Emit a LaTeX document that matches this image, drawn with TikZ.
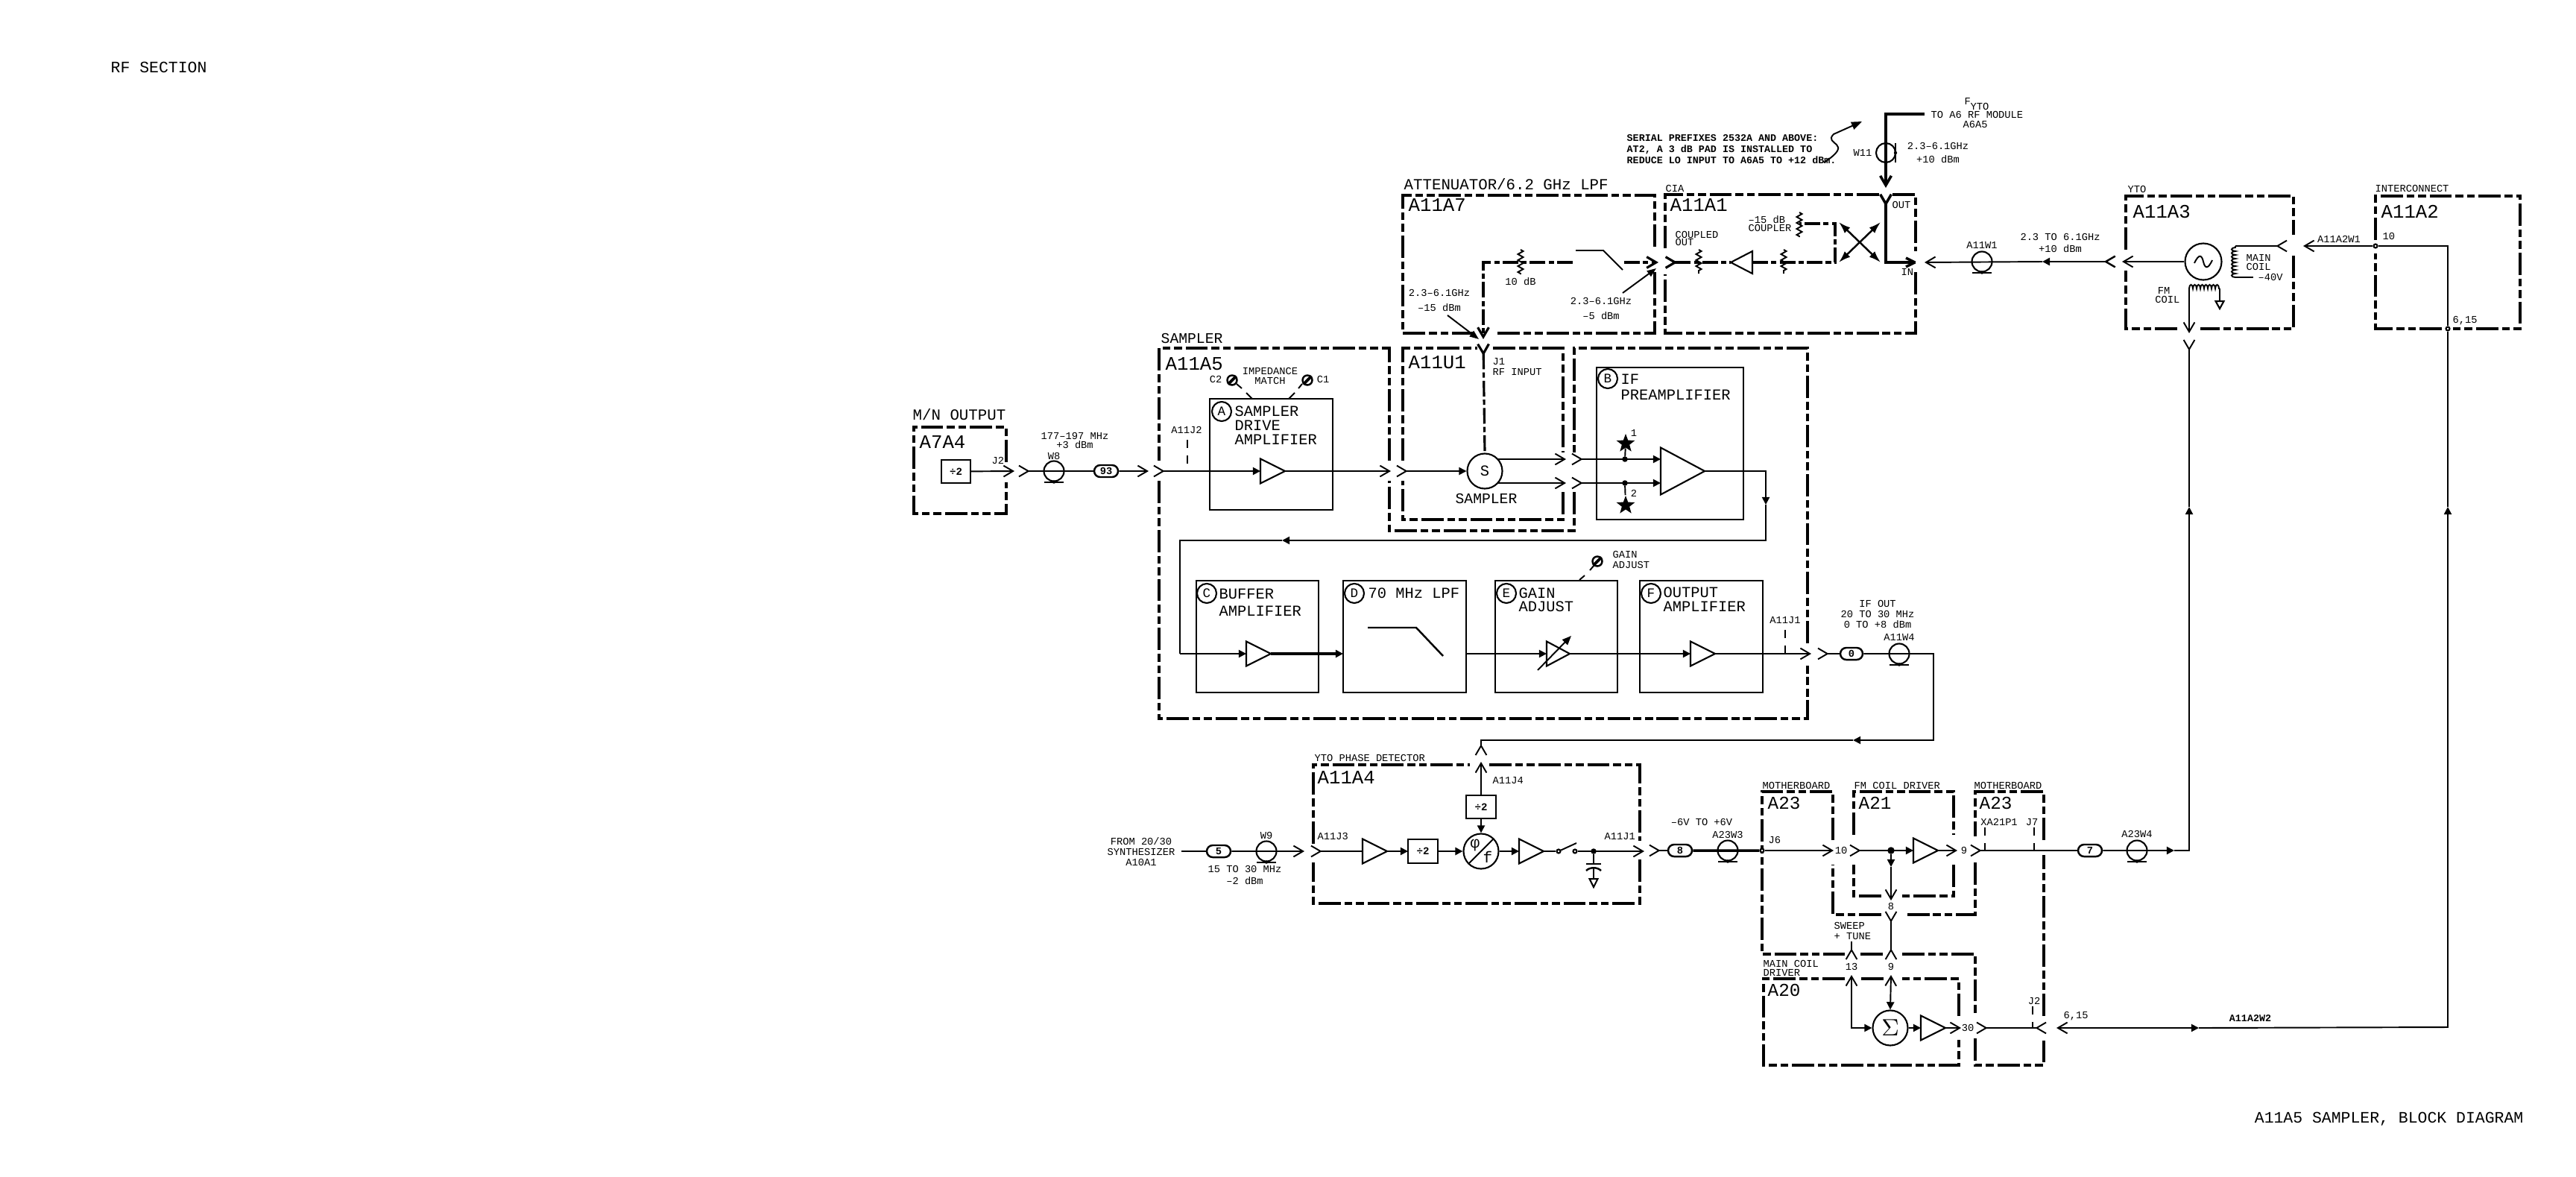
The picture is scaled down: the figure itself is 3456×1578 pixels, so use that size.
\documentclass[tikz,border=0pt]{standalone}
\usepackage{fontspec}
\setmainfont{Liberation Mono}
\usetikzlibrary{arrows.meta,shapes.geometric,shapes.misc,decorations.pathmorphing}

\tikzset{
    plug/.tip={Straight Barb[length=3.6pt,width=4.2pt]},
    wedge/.tip={Triangle[length=2.9pt,width=2.9pt]},
    wire/.style={line width=.55pt},
    heavywire/.style={line width=1pt},
    rfwire/.style={line width=.9pt,dash pattern=on 6pt off 1.2pt on 2pt off 1.2pt},
    modline/.style={line width=1pt,dash pattern=on 8.5pt off 1.4pt on 3pt off 1.4pt on 3pt off 1.4pt},
    blockbox/.style={draw,line width=.7pt,inner sep=0pt,outer sep=0pt},
    ampl/.style={draw,line width=.6pt,isosceles triangle,isosceles triangle stretches,
        minimum height=.33cm,minimum width=.33cm,inner sep=0pt,outer sep=0pt,anchor=lower side},
    lettermark/.style={draw,circle,line width=.6pt,minimum size=.26cm,inner sep=0pt,
        font=\fontsize{5}{5}\selectfont},
    pad/.style={draw,rounded rectangle,line width=.7pt,minimum width=.32cm,minimum height=.16cm,
        inner sep=0pt,font=\fontsize{3.9}{4}\bfseries\selectfont},
    coaxring/.style={draw,circle,line width=.6pt,minimum size=.27cm,inner sep=0pt},
    junct/.style={draw,fill,circle,minimum size=.06cm,inner sep=0pt},
    openjunct/.style={draw,fill=white,circle,line width=.6pt,minimum size=.05cm,inner sep=0pt},
    blackstar/.style={star,star points=5,star point ratio=2.4,fill,minimum size=.26cm,inner sep=0pt},
    coilwire/.style={wire,decorate,decoration={bumps,segment length=.1cm,amplitude=.05cm}},
    zigres/.style={wire,decorate,decoration={zigzag,segment length=.08cm,amplitude=.035cm}},
    txtbig/.style={inner sep=0pt,font=\fontsize{7.3}{8}\selectfont},
    txtmid/.style={inner sep=0pt,align=left,font=\fontsize{5.8}{5.6}\selectfont},
    txtsm/.style={inner sep=0pt,align=center,font=\fontsize{3.9}{4.2}\selectfont},
    txtbf/.style={inner sep=0pt,align=center,font=\fontsize{3.8}{4.2}\bfseries\selectfont},
}

\newcommand{\coaxat}[3]{
    \node[coaxring] (#1) at (#2,#3) {};
    \draw[wire] ([xshift=-.13cm]#1.south) -- ([xshift=.13cm]#1.south);
    \fill (#1.south) circle (2.2);
}
\newcommand{\screwat}[3]{
    \node[draw,circle,line width=.7pt,minimum size=.13cm,inner sep=0pt] (#1) at (#2,#3) {};
    \draw[line width=1.1pt] (#1.south west) -- (#1.north east);
}

\begin{document}
\begin{tikzpicture}[x=0.01cm,y=-0.01cm]
    \useasboundingbox (0,0) rectangle (3456,1578);

    % titles
    \node[inner sep=0pt,anchor=west,font=\fontsize{6.1}{7}\selectfont] (lblSection) at (148,90) {RF SECTION};
    \node[inner sep=0pt,anchor=east,font=\fontsize{6.1}{7}\selectfont] (lblTitle) at (3386,1501) {A11A5 SAMPLER, BLOCK DIAGRAM};

    % module outlines
    \draw[modline] (1350,620) -- (1350,573) -- (1226,573) -- (1226,689) -- (1350,689) -- (1350,647);
    \draw[modline] (1555,645) -- (1555,964) -- (2425,964) -- (2425,893);
    \draw[modline] (2425,863) -- (2425,467) -- (2112,467) -- (2112,607);
    \draw[modline] (2112,660) -- (2112,712) -- (1864,712) -- (1864,645);
    \draw[modline] (1864,618) -- (1864,467) -- (1555,467) -- (1555,618);
    \draw[modline] (1882,618) -- (1882,467) -- (1982,467);
    \draw[modline] (2003,467) -- (2097,467) -- (2097,607);
    \draw[modline] (2097,660) -- (2097,697) -- (1882,697) -- (1882,645);
    \draw[modline] (1978,447) -- (1882,447) -- (1882,262) -- (2220,262) -- (2220,333);
    \draw[modline] (2220,365) -- (2220,447) -- (2006,447);
    \draw[modline] (2234,333) -- (2234,261) -- (2523,261);
    \draw[modline] (2539,261) -- (2570,261) -- (2570,337);
    \draw[modline] (2570,365) -- (2570,447) -- (2234,447) -- (2234,368);
    \draw[modline] (2852,335) -- (2852,263) -- (3077,263) -- (3077,315);
    \draw[modline] (3077,343) -- (3077,441) -- (2952,441);
    \draw[modline] (2921,441) -- (2852,441) -- (2852,363);
    \draw[modline] (3187,322) -- (3187,263) -- (3381,263) -- (3381,441) -- (3291,441);
    \draw[modline] (3276,441) -- (3187,441) -- (3187,340);
    \draw[modline] (1762,1132) -- (1762,1026) -- (1972,1026);
    \draw[modline] (1998,1026) -- (2200,1026) -- (2200,1128);
    \draw[modline] (2200,1153) -- (2200,1212) -- (1762,1212) -- (1762,1157);
    \draw[modline] (2459,1127) -- (2459,1062) -- (2364,1062) -- (2364,1280) -- (2475,1280);
    \draw[modline] (2496,1280) -- (2527,1280);
    \draw[modline] (2552,1280) -- (2650,1280) -- (2650,1363);
    \draw[modline] (2650,1393) -- (2650,1429) -- (2742,1429) -- (2742,1393);
    \draw[modline] (2742,1363) -- (2742,1147);
    \draw[modline] (2742,1127) -- (2742,1062) -- (2650,1062) -- (2650,1122);
    \draw[modline] (2650,1157) -- (2650,1227) -- (2555,1227);
    \draw[modline] (2524,1227) -- (2459,1227) -- (2459,1160);
    \draw[modline] (2487,1120) -- (2487,1062) -- (2621,1062) -- (2621,1120);
    \draw[modline] (2621,1160) -- (2621,1202) -- (2552,1202);
    \draw[modline] (2524,1202) -- (2487,1202) -- (2487,1160);
    \draw[modline] (2475,1313) -- (2366,1313) -- (2366,1429) -- (2628,1429) -- (2628,1393);
    \draw[modline] (2628,1363) -- (2628,1313) -- (2552,1313);
    \draw[modline] (2527,1313) -- (2496,1313);

    % module names
    \node[txtmid,anchor=west,font=\fontsize{5.9}{6}\selectfont] (lblMN) at (1224,556) {M/N OUTPUT};
    \node[txtbig,anchor=west] (lblAsevenA) at (1233,593) {A7A4};
    \node[txtmid,anchor=west,font=\fontsize{5.6}{6}\selectfont] (lblSamplerTop) at (1557,454) {SAMPLER};
    \node[txtbig,anchor=west] (lblAfive) at (1563,488) {A11A5};
    \node[txtbig,anchor=west] (lblUone) at (1889,486) {A11U1};
    \node[txtmid,anchor=west,font=\fontsize{5.9}{6}\selectfont] (lblAtten) at (1883,247) {ATTENUATOR/6.2 GHz LPF};
    \node[txtbig,anchor=west] (lblAseven) at (1889,275) {A11A7};
    \node[txtsm,anchor=west] (lblCIA) at (2234,253) {CIA};
    \node[txtbig,anchor=west] (lblAone) at (2240,275) {A11A1};
    \node[txtsm,anchor=west] (lblYTO) at (2854,254) {YTO};
    \node[txtbig,anchor=west] (lblAthree) at (2861,284) {A11A3};
    \node[txtsm,anchor=west] (lblInter) at (3186,253) {INTERCONNECT};
    \node[txtbig,anchor=west] (lblAtwo) at (3194,284) {A11A2};
    \node[txtsm,anchor=west] (lblPhase) at (1763,1017) {YTO PHASE DETECTOR};
    \node[txtbig,anchor=west] (lblAfour) at (1767,1043) {A11A4};
    \node[txtsm,anchor=west] (lblMboardL) at (2364,1054) {MOTHERBOARD};
    \node[txtsm,anchor=west] (lblFMdrv) at (2487,1054) {FM COIL DRIVER};
    \node[txtsm,anchor=west] (lblMboardR) at (2648,1054) {MOTHERBOARD};
    \node[txtbig,anchor=west,font=\fontsize{6.9}{7}\selectfont] (lblAtwentythreeL) at (2371,1077) {A23};
    \node[txtbig,anchor=west,font=\fontsize{6.9}{7}\selectfont] (lblAtwentyone) at (2493,1077) {A21};
    \node[txtbig,anchor=west,font=\fontsize{6.9}{7}\selectfont] (lblAtwentythreeR) at (2655,1077) {A23};
    \node[txtsm,anchor=west,align=left] (lblMainDrv) at (2365,1299) {MAIN COIL\\[-.6pt]DRIVER};
    \node[txtbig,anchor=west,font=\fontsize{6.9}{7}\selectfont] (lblAtwenty) at (2371,1328) {A20};

    % note and w11
    \node[txtbf,anchor=west,align=left] (lblSerial) at (2182,200) {SERIAL PREFIXES 2532A AND ABOVE:\\AT2, A 3 dB PAD IS INSTALLED TO\\REDUCE LO INPUT TO A6A5 TO +12 dBm.};
    \coordinate (noteA) at (2447,218);
    \coordinate (noteB) at (2498,163);
    \draw[wire,-{Triangle[length=4pt,width=3pt]}] (noteA) .. controls (2490,190) and (2445,195) .. (2460,180) -- (noteB);
    \coordinate (fytoEnd) at (2582,153);
    \coordinate (fytoCorner) at (2530,153);
    \coordinate (fytoTip) at (2530,252);
    \draw[heavywire,-{plug}] (fytoEnd) -- (fytoCorner) -- (fytoTip);
    \node[draw,circle,line width=.6pt,minimum size=.26cm,inner sep=0pt] (wEleven) at (2530,205) {};
    \draw[wire] (2543,192) -- (2543,218);
    \fill (2543,205) circle (2.2);
    \node[txtsm,anchor=east] (lblWeleven) at (2512,205) {W11};
    \node[txtsm] (lblFreqTop) at (2600,205) {2.3–6.1GHz\\[1pt]+10 dBm};
    \node[txtsm,anchor=west] (lblF) at (2635,136) {F};
    \node[txtsm,anchor=west] (lblFsub) at (2643,143) {YTO};
    \node[txtsm,anchor=west] (lblToAsix) at (2590,154) {TO A6 RF MODULE};
    \node[txtsm,anchor=west] (lblAsixAfive) at (2633,167) {A6A5};

    % a11a1 coupler
    \coordinate (cplTop) at (2530,259);
    \coordinate (cplCorner) at (2530,352);
    \coordinate (cplIn) at (2570,352);
    \coordinate (cplFeed) at (2582,352);
    \draw[heavywire,{plug[reversed]}-] (cplTop) -- (cplCorner) -- (cplIn);
    \draw[heavywire] (2569,352) -- (2557,346) (2569,352) -- (2557,358);
    \node[txtsm,anchor=west] (lblOut) at (2538,275) {OUT};
    \node[txtsm,anchor=west] (lblIn) at (2550,365) {IN};
    \coordinate (xNW) at (2467,298);
    \coordinate (xNE) at (2523,298);
    \coordinate (xSW) at (2467,352);
    \coordinate (xSE) at (2523,352);
    \draw[wire,line width=.7pt,{Latex[length=4.5pt,width=3pt]}-{Latex[length=4.5pt,width=3pt]}] (xNW) -- (xSE);
    \draw[wire,line width=.7pt,{Latex[length=4.5pt,width=3pt]}-{Latex[length=4.5pt,width=3pt]}] (xSW) -- (xNE);
    \node[ampl,shape border rotate=180,minimum height=.29cm,minimum width=.3cm] (ampCpl) at (2351,352) {};
    \coordinate (cplJoin) at (2462,352);
    \coordinate (cplUp) at (2462,300);
    \coordinate (cplRes) at (2414,300);
    \draw[rfwire] (ampCpl.lower side) -- (cplJoin) -- (cplUp) -- (cplRes);
    \draw[zigres] (2414,285) -- (2414,318);
    \draw[zigres] (2393,335) -- (2393,367);
    \draw[zigres] (2279,335) -- (2279,367);
    \coordinate (coupOut) at (2233,352);
    \draw[rfwire,{plug[reversed]}-] (coupOut) -- (ampCpl.apex);
    \node[txtsm,anchor=east,align=left] (lblCoupler) at (2404,300) {–15 dB\\[-1.2pt]COUPLER};
    \node[txtsm,anchor=west,align=left] (lblCoupled) at (2247,320) {COUPLED\\[-1.2pt]OUT};

    % a11a7 path
    \coordinate (attDown) at (1990,455);
    \coordinate (attCorner) at (1990,352);
    \coordinate (attRes) at (2110,352);
    \draw[rfwire,-{plug}] (attRes) -- (attCorner) -- (attDown);
    \draw[zigres] (2040,335) -- (2040,368);
    \draw[wire] (2114,336) -- (2151,336) -- (2177,362);
    \coordinate (swOut) at (2179,352);
    \coordinate (attEnd) at (2225,352);
    \draw[rfwire,-{plug}] (swOut) -- (attEnd);
    \node[txtsm] (lblTenDb) at (2040,378) {10 dB};
    \node[txtsm] (lblMinusFifteen) at (1931,403) {2.3–6.1GHz\\[1.5pt]–15 dBm};
    \node[txtsm] (lblMinusFive) at (2148,414) {2.3–6.1GHz\\[1.5pt]–5 dBm};
    \draw[wire,-{Triangle[length=3.5pt,width=2.6pt]}] (1942,423) -- (1984,455);
    \draw[wire,-{Triangle[length=3.5pt,width=2.6pt]}] (2177,393) -- (2222,360);

    % yto and interconnect
    \node[draw,circle,line width=.6pt,minimum size=.49cm,inner sep=0pt] (oscYTO) at (2956,351) {};
    \draw[wire] (2944,353) .. controls (2950,340) and (2954,342) .. (2956,351) .. controls (2958,360) and (2962,362) .. (2968,349);
    \coordinate (oscOut) at (2847,351);
    \draw[wire,-{plug}] (oscYTO.west) -- (oscOut);
    \coordinate (feedOut) at (2839,351);
    \coordinate (feedMid) at (2740,351);
    \draw[wire,line width=.7pt,{plug[reversed]}-{wedge}] (feedOut) -- (feedMid);
    \draw[wire,-{plug}] (feedMid) -- (cplFeed);
    \coaxat{wAoneOne}{2659}{351}
    \node[txtsm] (lblAoneWone) at (2659,329) {A11W1};
    \node[txtsm] (lblFreqYTO) at (2764,326) {2.3 TO 6.1GHz\\[.6pt]+10 dBm};
    \node[txtsm] (lblOscMain) at (3030,352) {MAIN\\[-.8pt]COIL};
    \node[txtsm,anchor=west] (lblMinusForty) at (3029,372) {–40V};
    \node[txtsm,align=left,anchor=east] (lblFMcoil) at (2925,396) {\hspace*{1pt}FM\\[-1pt]COIL};
    \coordinate (mainCoilTop) at (2999,330);
    \coordinate (mainCoilBot) at (2999,372);
    \coordinate (mainIn) at (3069,330);
    \coordinate (mainEnd) at (3023,372);
    \draw[wire,{plug[reversed]}-] (mainIn) -- (mainCoilTop);
    \draw[coilwire] (mainCoilBot) -- (mainCoilTop);
    \draw[wire] (mainCoilBot) -- (mainEnd);
    \coordinate (fmTop) at (2937,387);
    \coordinate (fmCoilEnd) at (2978,387);
    \coordinate (gnddrop) at (2978,403);
    \draw[coilwire] (fmTop) -- (fmCoilEnd);
    \draw[wire] (fmCoilEnd) -- (gnddrop);
    \node[draw,isosceles triangle,isosceles triangle stretches,shape border rotate=-90,line width=.6pt,
        minimum height=.1cm,minimum width=.11cm,inner sep=0pt,anchor=lower side] (gndYTO) at (gnddrop) {};
    \coordinate (fmTip) at (2937,447);
    \draw[wire,-{plug}] (fmTop) -- (fmTip);
    \coordinate (connTwoW) at (3090,330);
    \node[openjunct] (jTen) at (3187,330) {};
    \node[openjunct] (jSixFifteen) at (3284,441) {};
    \node[txtsm,anchor=west] (lblTenTop) at (3196,317) {10};
    \node[txtsm,anchor=west] (lblSixFifteenTop) at (3290,430) {6,15};
    \node[txtsm] (lblAtwoWone) at (3138,321) {A11A2W1};
    \draw[wire,-{plug}] (jTen) -- (connTwoW);
    \coordinate (twoCorner) at (3284,330);
    \draw[wire] (jTen) -- (twoCorner) -- (jSixFifteen);

    % a7a4 to a11a5
    \node[blockbox,minimum width=.39cm,minimum height=.31cm,font=\fontsize{4}{4}\bfseries\selectfont] (divSeven) at (1282.5,632.5) {÷2};
    \coordinate (jTwoTip) at (1361,632);
    \draw[wire,-{plug}] (divSeven) -- (jTwoTip);
    \coordinate (jTwoPlug) at (1366,632);
    \coaxat{wEight}{1414}{632}
    \node[pad] (padNinetyThree) at (1484,632) {93};
    \draw[wire,{plug[reversed]}-] (jTwoPlug) -- (padNinetyThree);
    \coordinate (aTwoTip) at (1541,632);
    \draw[wire,-{plug}] (padNinetyThree) -- (aTwoTip);
    \node[txtsm,anchor=west] (lblJtwo) at (1330,618) {J2};
    \node[txtsm] (lblFreqEight) at (1442,591) {177–197 MHz\\[-.6pt]+3 dBm};
    \node[txtsm] (lblWeight) at (1414,612) {W8};
    \node[txtsm] (lblAJtwo) at (1592,577) {A11J2};
    \draw[wire,dashed] (1593,590) -- (1593,632);

    % block a
    \node[blockbox,minimum width=1.65cm,minimum height=1.49cm] (blkA) at (1705.5,609.5) {};
    \node[lettermark] (markA) at (1639,552) {A};
    \node[txtmid,anchor=north west] (lblSampler) at (1656,544) {SAMPLER\\[-.2pt]DRIVE\\[-.2pt]AMPLIFIER};
    \node[ampl] (ampA) at (1691,632) {};
    \coordinate (aIn) at (1547,632);
    \draw[wire,{plug[reversed]}-{wedge}] (aIn) -- (ampA.lower side);
    \coordinate (aOut) at (1866,632);
    \draw[wire,-{plug}] (ampA.apex) -- (aOut);
    \node[txtsm] (lblImped) at (1704,504) {IMPEDANCE\\[-.5pt]MATCH};
    \node[txtsm] (lblCtwo) at (1631,509) {C2};
    \node[txtsm] (lblCone) at (1775,509) {C1};
    \screwat{screwCtwo}{1653}{510}
    \screwat{screwCone}{1754}{510}
    \draw[wire] (1659,515) -- (1666,521);
    \draw[wire] (1672,527) -- (1680,535);
    \draw[wire] (1747,515) -- (1742,521);
    \draw[wire] (1737,527) -- (1729,535);

    % a11u1 sampler
    \node[draw,circle,line width=.6pt,minimum size=.47cm,inner sep=0pt,font=\fontsize{5.8}{6}\selectfont] (mixS) at (1992,632) {S};
    \coordinate (sIn) at (1873,632);
    \draw[wire,{plug[reversed]}-{wedge}] (sIn) -- (mixS.west);
    \coordinate (rfPlug) at (1990,460);
    \draw[rfwire,{plug[reversed]}-] (rfPlug) -- (mixS.north);
    \node[txtsm,anchor=west,align=left] (lblRFin) at (2002,492) {J1\\RF INPUT};
    \node[txtmid,font=\fontsize{5.6}{6}\selectfont] (lblSamplerIn) at (1994,669) {SAMPLER};
    \coordinate (sUpTip) at (2101,616);
    \coordinate (sLowTip) at (2101,648);
    \coordinate (sUpFrom) at (2009,616);
    \coordinate (sLowFrom) at (2009,648);
    \draw[wire,-{plug}] (sUpFrom) -- (sUpTip);
    \draw[wire,-{plug}] (sLowFrom) -- (sLowTip);

    % block b
    \node[blockbox,minimum width=1.97cm,minimum height=2.04cm] (blkB) at (2240.5,595) {};
    \node[lettermark] (markB) at (2157,508) {B};
    \node[txtmid,anchor=north west] (lblPreamp) at (2174,501) {IF\\[.6pt]PREAMPLIFIER};
    \node[ampl,minimum height=.59cm,minimum width=.63cm] (ampB) at (2228,632) {};
    \coordinate (bUpIn) at (2108,616);
    \coordinate (bLowIn) at (2108,648);
    \coordinate (bUpEnd) at (2228,616);
    \coordinate (bLowEnd) at (2228,648);
    \node[junct] (dotUp) at (2180,616) {};
    \node[junct] (dotLow) at (2180,648) {};
    \draw[wire,{plug[reversed]}-{wedge}] (bUpIn) -- (bUpEnd);
    \draw[wire,{plug[reversed]}-{wedge}] (bLowIn) -- (bLowEnd);
    \node[blackstar] (starUp) at (2181,595) {};
    \node[blackstar] (starLow) at (2181,678) {};
    \draw[wire] (dotUp) -- (starUp);
    \draw[wire] (dotLow) -- (starLow);
    \node[txtsm] (lblOne) at (2192,581) {1};
    \node[txtsm] (lblTwo) at (2192,662) {2};
    \coordinate (bCorner) at (2369,632);
    \coordinate (bDrop) at (2369,677);
    \coordinate (bFold) at (2369,725);
    \coordinate (foldMid) at (1720,725);
    \coordinate (foldCorner) at (1583,725);
    \coordinate (foldDown) at (1583,877);
    \draw[wire,-{wedge}] (ampB.apex) -- (bCorner) -- (bDrop);
    \draw[wire,-{wedge}] (bDrop) -- (bFold) -- (foldMid);
    \draw[wire] (foldMid) -- (foldCorner) -- (foldDown);

    % blocks c to f
    \node[blockbox,minimum width=1.64cm,minimum height=1.5cm] (blkC) at (1687,854) {};
    \node[lettermark] (markC) at (1619,796) {C};
    \node[txtmid,anchor=north west] (lblBuffer) at (1635,789) {BUFFER\\[1pt]AMPLIFIER};
    \node[ampl] (ampC) at (1672,877) {};
    \draw[wire,-{wedge}] (foldDown) -- (ampC.lower side);
    \node[blockbox,minimum width=1.65cm,minimum height=1.5cm] (blkD) at (1884.5,854) {};
    \node[lettermark] (markD) at (1817,796) {D};
    \node[txtmid,anchor=west] (lblLPF) at (1835,796) {70 MHz LPF};
    \draw[line width=.7pt] (1835,842) -- (1900,842) -- (1936,880);
    \draw[heavywire,-{wedge}] (ampC.apex) -- (blkD.west |- ampC.apex);
    \node[blockbox,minimum width=1.64cm,minimum height=1.5cm] (blkE) at (2088,854) {};
    \node[lettermark] (markE) at (2021,796) {E};
    \node[txtmid,anchor=north west] (lblGain) at (2037,788) {GAIN\\[-.4pt]ADJUST};
    \node[ampl,minimum height=.31cm] (ampE) at (2075,877) {};
    \draw[wire,-{wedge}] (blkD.east |- ampE.lower side) -- (ampE.lower side);
    \draw[wire,-{Triangle[length=3.5pt,width=2.8pt]}] (2063,899) -- (2108,853);
    \node[blockbox,minimum width=1.65cm,minimum height=1.5cm] (blkF) at (2282.5,854) {};
    \node[lettermark] (markF) at (2215,796) {F};
    \node[txtmid,anchor=north west] (lblOutput) at (2231,787) {OUTPUT\\[-.2pt]AMPLIFIER};
    \node[ampl] (ampF) at (2268,877) {};
    \draw[wire,-{wedge}] (ampE.apex) -- (ampF.lower side);
    \coordinate (fOut) at (2430,877);
    \draw[wire,-{plug}] (ampF.apex) -- (fOut);
    \node[txtsm] (lblFJone) at (2395,832) {A11J1};
    \draw[wire,dashed] (2395,845) -- (2395,877);
    \screwat{screwGain}{2143}{753}
    \node[txtsm,anchor=west,align=left] (lblGainAdj) at (2163,751) {GAIN\\[-.3pt]ADJUST};
    \draw[wire] (2133,765) -- (2139,758);
    \draw[wire] (2119,778) -- (2126,772);

    % if out to a11a4
    \coordinate (ifPlug) at (2438,877);
    \node[pad,minimum width=.3cm] (padZero) at (2484,877) {0};
    \draw[wire,{plug[reversed]}-] (ifPlug) -- (padZero);
    \coaxat{wFour}{2548}{877}
    \coordinate (ifCorner) at (2594,877);
    \coordinate (ifLow) at (2594,993);
    \coordinate (ifMid) at (2486,993);
    \coordinate (ifLeft) at (1987,993);
    \coordinate (ifDown) at (1987,1014);
    \draw[wire,-{wedge}] (padZero) -- (ifCorner) -- (ifLow) -- (ifMid);
    \draw[wire,-{plug[reversed]}] (ifMid) -- (ifLeft) -- (ifDown);
    \node[txtsm] (lblIFout) at (2519,824) {IF OUT\\[-.3pt]20 TO 30 MHz\\[-.3pt]0 TO +8 dBm};
    \node[txtsm] (lblAWfour) at (2548,855) {A11W4};

    % a11a4
    \node[txtsm] (lblFrom) at (1531,1143) {FROM 20/30\\[-.2pt]SYNTHESIZER\\[-.2pt]A10A1};
    \coordinate (fromEnd) at (1585,1142);
    \node[pad] (padFive) at (1635,1142) {5};
    \draw[wire] (fromEnd) -- (padFive);
    \coaxat{wNine}{1699}{1142}
    \node[txtsm] (lblWnine) at (1699,1121) {W9};
    \node[txtsm] (lblFreqNine) at (1670,1174) {15 TO 30 MHz\\[.4pt]–2 dBm};
    \coordinate (nineTip) at (1750,1142);
    \draw[wire,-{plug}] (padFive) -- (nineTip);
    \node[txtsm,anchor=west] (lblJthree) at (1767,1122) {A11J3};
    \node[ampl] (ampDet) at (1828,1142) {};
    \coordinate (jThreeIn) at (1758,1142);
    \draw[wire,{plug[reversed]}-] (jThreeIn) -- (ampDet.lower side);
    \node[blockbox,minimum width=.4cm,minimum height=.32cm,font=\fontsize{4}{4}\bfseries\selectfont] (divDet) at (1909,1142) {÷2};
    \draw[wire,-{wedge}] (ampDet.apex) -- (divDet);
    \node[draw,circle,line width=.6pt,minimum size=.47cm,inner sep=0pt] (phaseF) at (1987,1142) {};
    \draw[wire] (phaseF.south west) -- (phaseF.north east);
    \node[inner sep=0pt,font=\fontsize{6}{6}\selectfont] (lblPhi) at (1979,1134) {φ};
    \node[inner sep=0pt,font=\fontsize{6}{6}\selectfont] (lblFvar) at (1996,1150) {f};
    \draw[wire,line width=.7pt,-{wedge}] (divDet) -- (phaseF);
    \node[blockbox,minimum width=.4cm,minimum height=.31cm,font=\fontsize{4}{4}\bfseries\selectfont] (divFour) at (1987,1082.5) {÷2};
    \draw[wire,-{wedge}] (divFour) -- (phaseF);
    \coordinate (jFourTip) at (1987,1022);
    \draw[wire,-{plug}] (divFour) -- (jFourTip);
    \node[txtsm,anchor=west] (lblJfour) at (2002,1047) {A11J4};
    \node[ampl] (ampLoop) at (2038,1142) {};
    \draw[wire,-{wedge}] (phaseF) -- (ampLoop.lower side);
    \node[openjunct] (swL) at (2091,1142) {};
    \node[openjunct] (swR) at (2113,1142) {};
    \draw[wire] (ampLoop.apex) -- (swL);
    \draw[wire] (swL) -- (2115,1131);
    \coordinate (detOut) at (2206,1142);
    \draw[wire,-{plug}] (swR) -- (detOut);
    \node[junct] (dotCap) at (2138,1142) {};
    \coordinate (capPlate) at (2138,1159);
    \draw[wire] (dotCap) -- (capPlate);
    \draw[wire,line width=.7pt] (2128,1159) -- (2148,1159);
    \draw[wire,line width=.7pt] (2128,1168) .. controls (2133,1163) and (2143,1163) .. (2148,1168);
    \draw[wire] (2138,1164) -- (2138,1178);
    \node[draw,isosceles triangle,isosceles triangle stretches,shape border rotate=-90,line width=.6pt,
        minimum height=.11cm,minimum width=.11cm,inner sep=0pt,anchor=lower side] (gndDet) at (2138,1178) {};
    \node[txtsm,anchor=west] (lblJone) at (2152,1122) {A11J1};

    % motherboard and fm coil driver
    \coordinate (detPlug) at (2212,1141);
    \node[pad] (padEight) at (2254,1141) {8};
    \draw[wire,{plug[reversed]}-] (detPlug) -- (padEight);
    \coaxat{wThree}{2318}{1141}
    \node[txtsm] (lblAWthree) at (2318,1120) {A23W3};
    \node[txtsm] (lblSixVolt) at (2283,1103) {–6V TO +6V};
    \node[openjunct] (jSix) at (2364,1141) {};
    \draw[wire,heavywire] (padEight) -- (jSix);
    \node[txtsm,anchor=west] (lblJsix) at (2372,1127) {J6};
    \coordinate (tenTip) at (2460,1141);
    \draw[wire,-{plug}] (jSix) -- (tenTip);
    \node[txtsm] (lblTen) at (2470,1141) {10};
    \node[ampl] (ampFM) at (2567,1141) {};
    \coordinate (tenOut) at (2481,1141);
    \node[junct,minimum size=.08cm] (dotFM) at (2537,1141) {};
    \draw[wire,{plug[reversed]}-{wedge}] (tenOut) -- (ampFM.lower side);
    \coordinate (nineOut) at (2626,1141);
    \draw[wire,-{plug}] (ampFM.apex) -- (nineOut);
    \node[txtsm] (lblNineOut) at (2635,1141) {9};
    \coordinate (ninePlug) at (2643,1141);
    \node[pad] (padSeven) at (2804,1141) {7};
    \draw[wire,{plug[reversed]}-] (ninePlug) -- (padSeven);
    \node[txtsm] (lblXA) at (2682,1103) {XA21P1};
    \node[txtsm] (lblJseven) at (2726,1103) {J7};
    \draw[wire,dashed] (2663,1110) -- (2663,1141);
    \draw[wire,dashed] (2729,1110) -- (2729,1141);
    \coaxat{wFourM}{2867}{1141}
    \node[txtsm] (lblAWfourM) at (2867,1119) {A23W4};
    \coordinate (sevenMid) at (2917,1141);
    \coordinate (sevenCorner) at (2937,1141);
    \coordinate (sevenUp) at (2937,680);
    \coordinate (fmPlug) at (2937,455);
    \draw[wire,-{wedge}] (padSeven) -- (sevenMid);
    \draw[wire,-{wedge}] (sevenMid) -- (sevenCorner) -- (sevenUp);
    \draw[wire,-{plug[reversed]}] (sevenUp) -- (fmPlug);

    % fm to main coil
    \coordinate (dotFMmid) at (2537,1163);
    \coordinate (eightTip) at (2537,1208);
    \draw[wire,-{wedge}] (dotFM) -- (dotFMmid);
    \draw[wire,-{plug}] (dotFMmid) -- (eightTip);
    \node[txtsm] (lblEight) at (2537,1216) {8};
    \coordinate (eightPlug) at (2537,1222);
    \coordinate (nineTop) at (2537,1288);
    \draw[wire,{plug[reversed]}-{plug[reversed]}] (eightPlug) -- (nineTop);
    \node[txtsm] (lblNine) at (2537,1297) {9};
    \coordinate (ninePlugLow) at (2537,1308);
    \node[draw,circle,line width=.6pt,minimum size=.47cm,inner sep=0pt,font=\fontsize{9}{9}\selectfont] (sumMain) at (2536,1379) {$\Sigma$};
    \draw[wire,{plug}-{wedge}] (ninePlugLow) -- (sumMain.north);
    \node[txtsm,anchor=west,align=left] (lblSweep) at (2460,1249) {SWEEP\\+ TUNE};
    \coordinate (sweepTop) at (2484,1263);
    \coordinate (sweepTip) at (2484,1288);
    \draw[wire,-{plug[reversed]}] (sweepTop) -- (sweepTip);
    \node[txtsm] (lblThirteen) at (2484,1297) {13};
    \coordinate (sweepLow) at (2484,1308);
    \coordinate (sweepCorner) at (2484,1379);
    \draw[wire,{plug}-{wedge}] (sweepLow) -- (sweepCorner) -- (sumMain.west);
    \node[ampl] (ampMain) at (2577,1379) {};
    \draw[wire,-{wedge}] (sumMain) -- (ampMain.lower side);
    \coordinate (thirtyTip) at (2631,1379);
    \draw[wire,-{plug}] (ampMain.apex) -- (thirtyTip);
    \node[txtsm] (lblThirty) at (2640,1379) {30};
    \coordinate (thirtyPlug) at (2651,1379);
    \coordinate (jTwoIn) at (2746,1379);
    \draw[wire,{plug[reversed]}-{plug[reversed]}] (thirtyPlug) -- (jTwoIn);
    \node[txtsm] (lblJtwoM) at (2729,1343) {J2};
    \draw[wire,dashed] (2727,1350) -- (2727,1379);
    \coordinate (sixIn) at (2759,1379);
    \coordinate (sixMid) at (2950,1379);
    \coordinate (sixCorner) at (3284,1378);
    \coordinate (sixUp) at (3284,680);
    \node[txtsm,anchor=west] (lblSixFifteen) at (2768,1363) {6,15};
    \node[txtbf,inner sep=0pt] (lblWtwo) at (3019,1366) {A11A2W2};
    \draw[wire,{plug}-{wedge}] (sixIn) -- (sixMid);
    \draw[wire,-{wedge}] (sixMid) -- (sixCorner) -- (sixUp);
    \draw[wire] (sixUp) -- (jSixFifteen);
\end{tikzpicture}
\end{document}
